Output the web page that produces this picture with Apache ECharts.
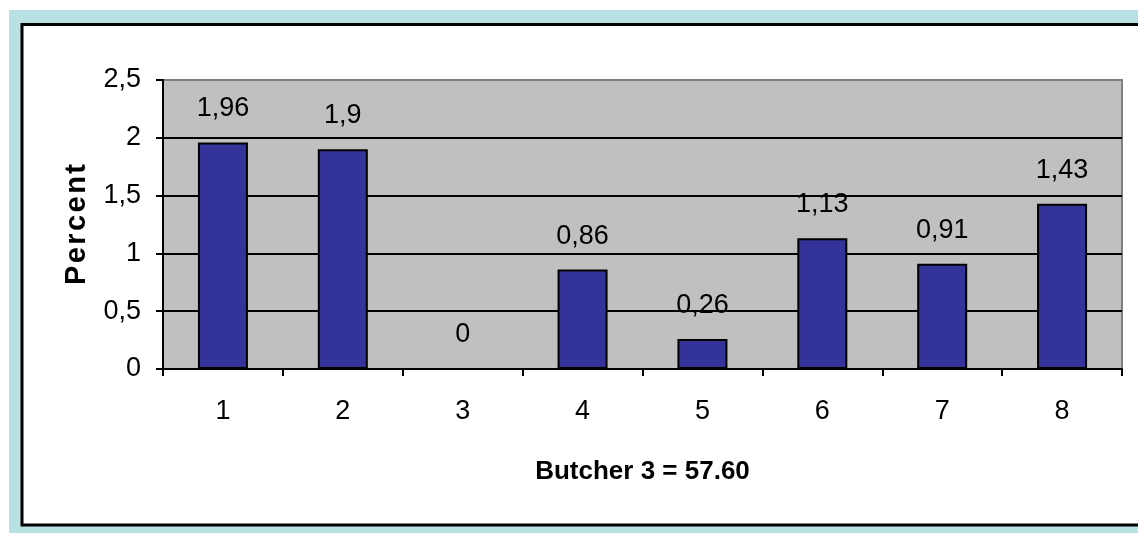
<!DOCTYPE html>
<html>
<head>
<meta charset="utf-8">
<script src="https://cdn.jsdelivr.net/npm/echarts@6/dist/echarts.min.js"></script>
<style>
  html, body { margin: 0; padding: 0; background: #ffffff; }
  #chart { width: 1138px; height: 533px; }
</style>
</head>
<body>
<div id="chart"></div>
<script>
// Category positions along the x axis
const categories = ['1', '2', '3', '4', '5', '6', '7', '8'];
// Percent per category
const percentValues = [1.96, 1.9, 0, 0.86, 0.26, 1.13, 0.91, 1.43];
// Y axis tick labels (decimal comma)
const yTickLabels = ['0', '0,5', '1', '1,5', '2', '2,5'];
const yStep = 0.5;

const xTitle = 'Butcher 3 = 57.60';
const yTitle = 'P\u200Ae\u200Ar\u200Ac\u200Ae\u200An\u200At';

const FONT = "'Liberation Sans', Arial, sans-serif";
const chart = echarts.init(document.getElementById('chart'), null, { renderer: 'canvas' });

chart.setOption({
  animation: false,
  backgroundColor: '#ffffff',
  graphic: [
    {
      type: 'rect', z: -10, silent: true,
      shape: { x: 9, y: 10, width: 1140, height: 530 },
      style: { fill: '#b9e0e2' }
    },
    {
      type: 'rect', z: -9, silent: true,
      shape: { x: 22, y: 24.5, width: 1140, height: 500.5 },
      style: { fill: '#ffffff', stroke: '#000000', lineWidth: 3 }
    }
  ],
  grid: {
    left: 163, right: 16, top: 80, bottom: 164,
    show: true,
    backgroundColor: '#c0c0c0',
    borderColor: '#808080',
    borderWidth: 2,
    containLabel: false
  },
  xAxis: {
    type: 'category',
    data: categories,
    boundaryGap: true,
    name: xTitle,
    nameLocation: 'middle',
    nameGap: 90,
    nameTextStyle: { fontFamily: FONT, fontSize: 26, fontWeight: 'bold', color: '#000' },
    axisLine: { show: true, lineStyle: { color: '#000', width: 2 } },
    axisTick: { show: true, alignWithLabel: false, length: 7, lineStyle: { color: '#000', width: 2 } },
    axisLabel: { fontFamily: FONT, fontSize: 27, color: '#000', margin: 29 },
    splitLine: { show: false }
  },
  yAxis: {
    type: 'value',
    min: 0,
    max: 2.5,
    interval: yStep,
    name: yTitle,
    nameLocation: 'middle',
    nameGap: 72,
    nameRotate: 90,
    nameTextStyle: { fontFamily: FONT, fontSize: 29, fontWeight: 'bold', color: '#000' },
    axisLine: { show: true, lineStyle: { color: '#000', width: 2 } },
    axisTick: { show: true, length: 7, lineStyle: { color: '#000', width: 2 } },
    axisLabel: {
      fontFamily: FONT, fontSize: 27, color: '#000', margin: 22,
      formatter: v => yTickLabels[Math.round(v / yStep)]
    },
    splitLine: { show: true, showMaxLine: false, lineStyle: { color: '#000', width: 2 } }
  },
  series: [{
    type: 'bar',
    data: percentValues,
    barWidth: 50,
    itemStyle: { color: '#333399', borderColor: '#000', borderWidth: 2 },
    label: {
      show: true,
      position: 'top',
      distance: 20,
      fontFamily: FONT,
      fontSize: 27,
      color: '#000',
      formatter: p => String(p.value).replace('.', ',')
    }
  }]
});
</script>
</body>
</html>
